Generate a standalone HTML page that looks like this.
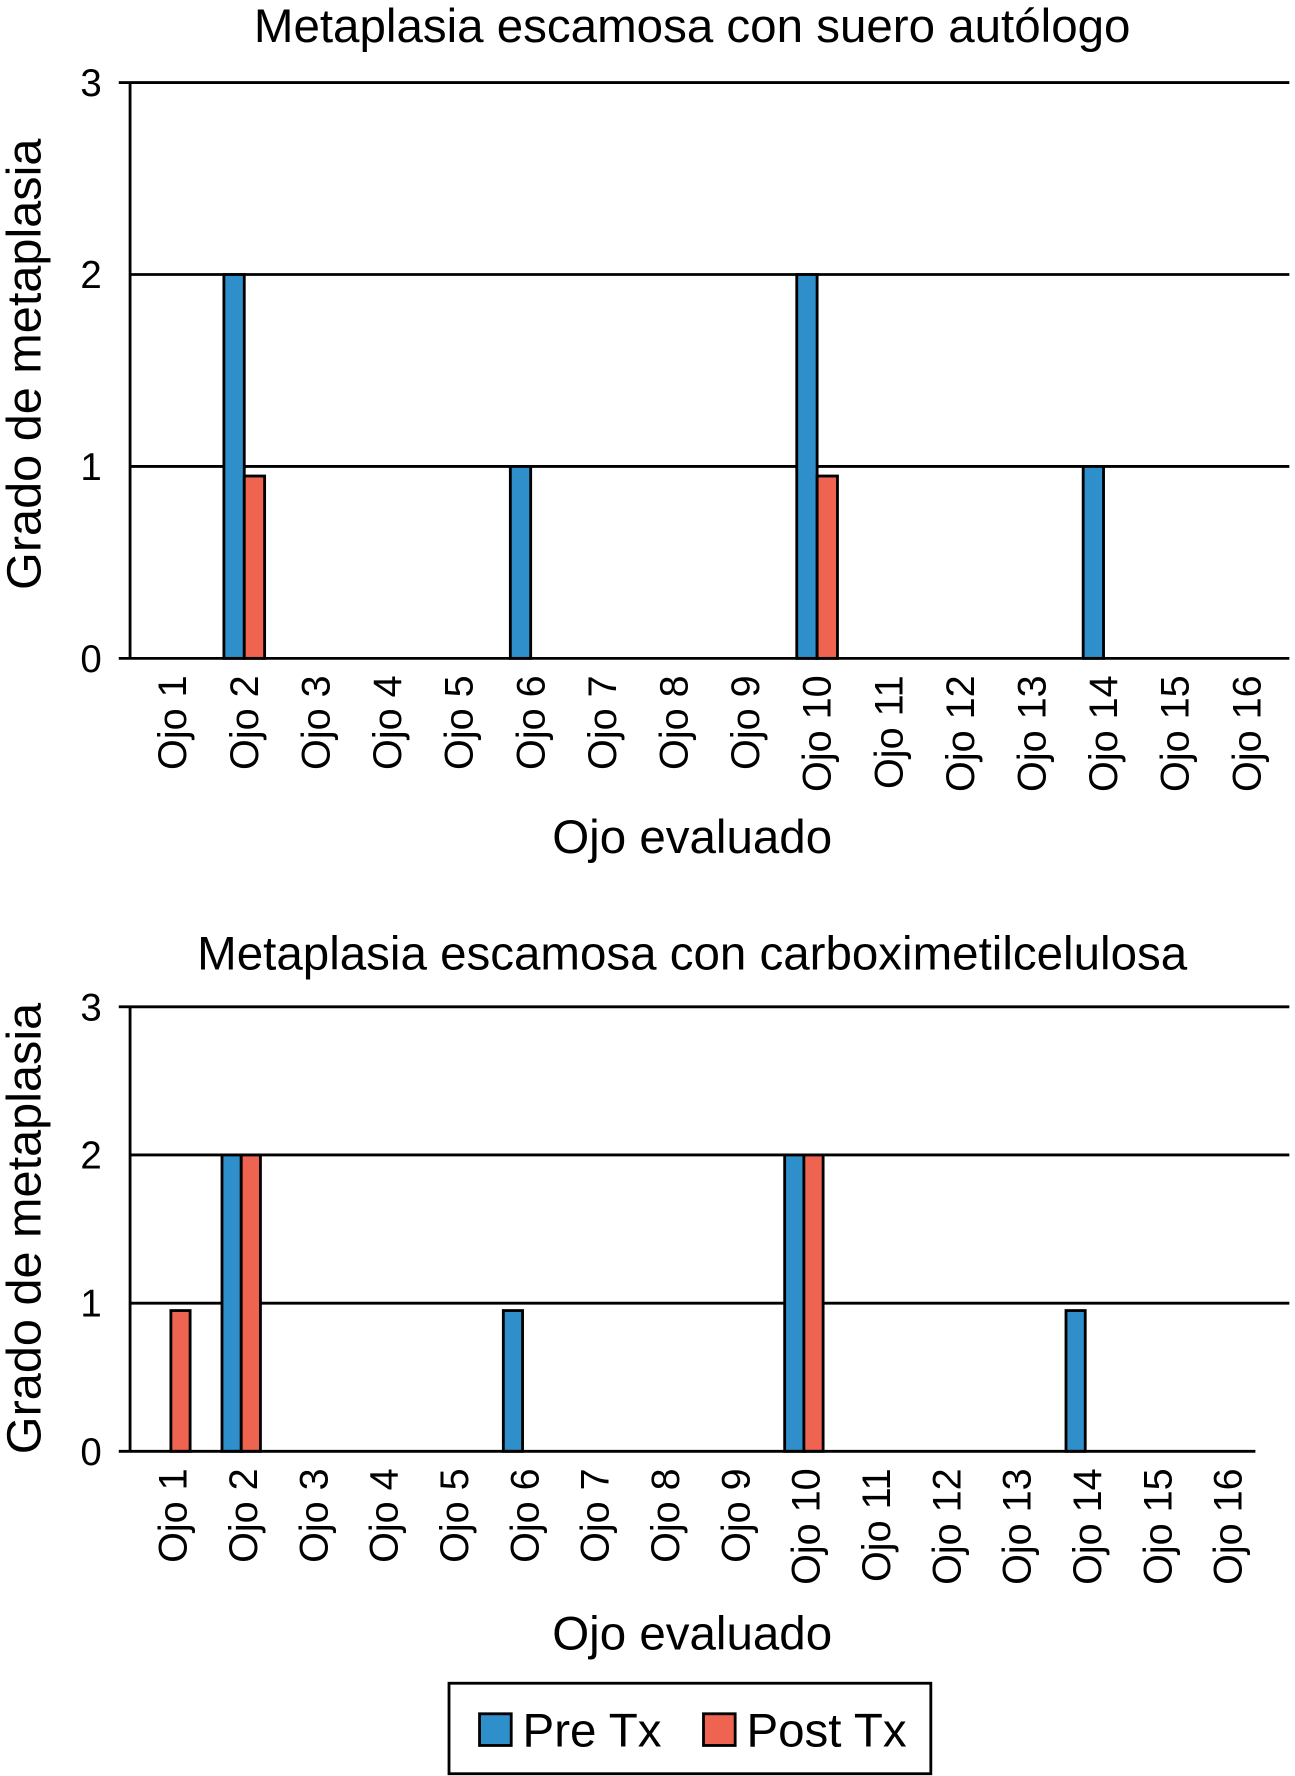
<!DOCTYPE html>
<html><head><meta charset="utf-8"><style>html,body{margin:0;padding:0;background:#fff}svg{display:block}</style></head>
<body>
<svg id="c" width="1295" height="1776" viewBox="0 0 1145 1570" preserveAspectRatio="none" font-family="Liberation Sans, sans-serif" xmlns="http://www.w3.org/2000/svg"></svg>
<script>
const categories = ["Ojo 1","Ojo 2","Ojo 3","Ojo 4","Ojo 5","Ojo 6","Ojo 7","Ojo 8","Ojo 9","Ojo 10","Ojo 11","Ojo 12","Ojo 13","Ojo 14","Ojo 15","Ojo 16"];
const yTicks = [0,1,2,3];
const preTx1 = [0,2,0,0,0,1,0,0,0,2,0,0,0,1,0,0];
const postTx1 = [0,0.95,0,0,0,0,0,0,0,0.95,0,0,0,0,0,0];
const preTx2 = [0,2,0,0,0,0.95,0,0,0,2,0,0,0,0.95,0,0];
const postTx2 = [0.95,2,0,0,0,0,0,0,0,2,0,0,0,0,0,0];
const titles = ["Metaplasia escamosa con suero autólogo","Metaplasia escamosa con carboximetilcelulosa"];

const svg = document.getElementById('c');
const NS = 'http://www.w3.org/2000/svg';
function mk(tag, attrs, parent){const e=document.createElementNS(NS,tag);for(const k in attrs)e.setAttribute(k,attrs[k]);(parent||svg).appendChild(e);return e;}
const BLUE='#2e8fcb', RED='#ef6351';

function drawChart(cfg, pre, post, title, idx){
  const g = mk('g',{});
  
  
  const y = v => cfg.y0 - v*(cfg.y0-cfg.y3)/3;
  const step = (cfg.xEnd-cfg.x0)/categories.length;
  const cx = i => cfg.x0 + step*(i+0.5) + cfg.off;
  const t = mk('text',{x:612,y:cfg.titleY,'font-size':42,'text-anchor':'middle'},g);
  t.textContent = title;
  
  
  yTicks.forEach(v=>{
    if(v>0){const l=mk('line',{x1:cfg.x0,x2:1140,y1:y(v),y2:y(v),stroke:'#000','stroke-width':2.5},g);
      
      }
    const tl=mk('text',{x:90,y:y(v)+12,'font-size':34,'text-anchor':'end'},g);
    tl.textContent=v;
    
    
  });
  const yt=mk('text',{transform:`translate(36,${cfg.yTitleC}) rotate(-90)`,'font-size':43,'text-anchor':'middle'},g);
  yt.textContent='Grado de metaplasia';
  
  
  const bw = cfg.bw;
  categories.forEach((c,i)=>{
    if(pre[i]>0){const r=mk('rect',{x:cx(i)-bw,y:y(pre[i]),width:bw,height:cfg.y0-y(pre[i]),fill:BLUE,stroke:'#000','stroke-width':2.5},g);
      
      }
    if(post[i]>0){const r=mk('rect',{x:cx(i),y:y(post[i]),width:bw,height:cfg.y0-y(post[i]),fill:RED,stroke:'#000','stroke-width':2.5},g);
      
      }
    const xl=mk('text',{transform:`translate(${cx(i)+cfg.lblOff},${cfg.y0+15}) rotate(-90)`,'font-size':35,'text-anchor':'end'},g);
    xl.textContent=c;
    
    
  });
  const ax=mk('line',{x1:cfg.x0,x2:cfg.x0,y1:cfg.y3,y2:cfg.y0,stroke:'#000','stroke-width':2.5},g);
  
  
  const bx=mk('line',{x1:cfg.x0-10,x2:cfg.baseEnd,y1:cfg.y0,y2:cfg.y0,stroke:'#000','stroke-width':2.5},g);
  
  
  const tk=mk('line',{x1:cfg.x0-10,x2:cfg.x0,y1:cfg.y3,y2:cfg.y3,stroke:'#000','stroke-width':2.5},g);
  
  
  const xt=mk('text',{x:612,y:cfg.xTitleY,'font-size':42,'text-anchor':'middle'},g);
  xt.textContent='Ojo evaluado';
  
  
}
drawChart({x0:115,xEnd:1128,y0:582,y3:73,titleY:37,xTitleY:754,yTitleC:322,bw:18,off:6,lblOff:12,baseEnd:1140},preTx1,postTx1,titles[0],0);
drawChart({x0:115,xEnd:1110,y0:1283,y3:890,titleY:857,xTitleY:1458,yTitleC:1086,bw:17,off:5,lblOff:14,baseEnd:1110},preTx2,postTx2,titles[1],1);

const lg=mk('g',{});


mk('rect',{x:397,y:1488,width:426,height:80,fill:'#fff',stroke:'#000','stroke-width':2.5},lg);
[['Pre Tx',BLUE,424],['Post Tx',RED,622]].forEach(([n,col,x])=>{
  const e=mk('g',{},lg);
  
  
  mk('rect',{x:x,y:1515,width:28,height:28,fill:col,stroke:'#000','stroke-width':2.5},e);
  const t=mk('text',{x:x+38,y:1544,'font-size':42},e);
  t.textContent=n;
});
</script>
</body></html>
